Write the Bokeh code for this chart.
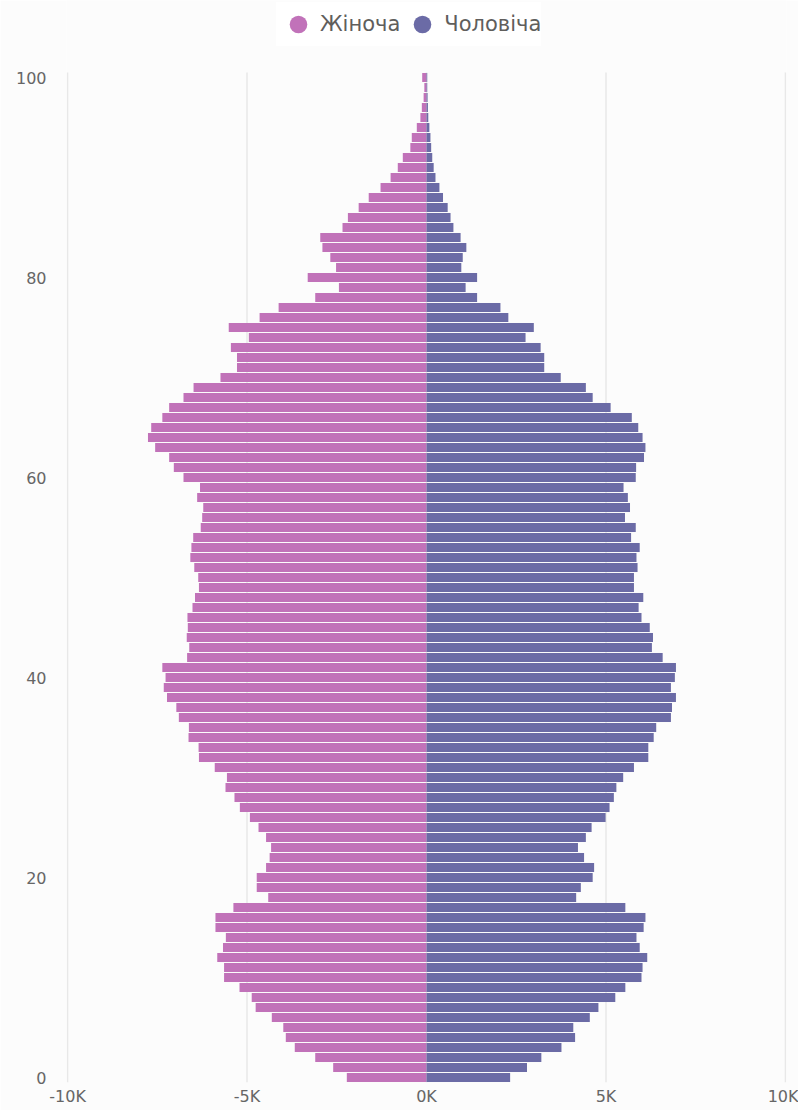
from bokeh.plotting import figure
from bokeh.models import ColumnDataSource, Range1d, FixedTicker, Legend, LegendItem
from bokeh.embed import file_html
from bokeh.resources import INLINE

ages = list(range(0, 101))
female = [2220, 2600, 3100, 3670, 3920, 3990, 4310, 4760, 4870, 5210,
          5640, 5640, 5830, 5670, 5590, 5880, 5880, 5380, 4410, 4730,
          4730, 4470, 4370, 4330, 4470, 4680, 4920, 5200, 5350, 5600,
          5560, 5900, 6340, 6350, 6630, 6620, 6900, 6970, 7230, 7320,
          7270, 7360, 6670, 6610, 6680, 6650, 6660, 6520, 6450, 6340,
          6360, 6470, 6580, 6550, 6500, 6290, 6250, 6220, 6390, 6310,
          6770, 7040, 7170, 7560, 7760, 7670, 7360, 7170, 6770, 6490,
          5740, 5280, 5280, 5450, 4950, 5510, 4650, 4120, 3100, 2440,
          3310, 2520, 2680, 2900, 2960, 2340, 2190, 1890, 1610, 1280,
          1000, 800, 660, 450, 410, 270, 170, 130, 80, 60,
          120]
male = [2330, 2800, 3200, 3760, 4140, 4090, 4550, 4790, 5260, 5540,
        5990, 6020, 6150, 5940, 5850, 6050, 6100, 5540, 4170, 4300,
        4630, 4670, 4390, 4220, 4440, 4600, 4990, 5100, 5220, 5290,
        5480, 5780, 6180, 6180, 6330, 6400, 6810, 6840, 6950, 6810,
        6920, 6950, 6580, 6280, 6310, 6220, 5990, 5910, 6040, 5780,
        5780, 5880, 5850, 5940, 5700, 5830, 5530, 5670, 5610, 5490,
        5830, 5840, 6060, 6100, 6020, 5900, 5720, 5130, 4630, 4440,
        3740, 3280, 3280, 3180, 2760, 2990, 2280, 2060, 1410, 1090,
        1410, 970, 1010, 1110, 950, 750, 670, 590, 460, 360,
        250, 200, 160, 130, 110, 80, 50, 40, 30, 20,
        20]
series_names = ["Жіноча", "Чоловіча"]
x_tick_values = [-10000, -5000, 0, 5000, 10000]
x_tick_labels = ["-10K", "-5K", "0K", "5K", "10K"]
y_tick_values = [0, 20, 40, 60, 80, 100]

FEMALE_COLOR = "#C172B9"
MALE_COLOR = "#6B6BA6"
BG = "#FCFCFC"
FONT = "DejaVu Sans"

src = ColumnDataSource(data=dict(
    age=ages,
    f_left=[-v for v in female],
    zero=[0] * len(ages),
    m_right=male,
))

# frame reaches the top of the canvas so the legend can sit inside it
p = figure(width=798, height=1110, output_backend="svg", toolbar_location=None,
           x_range=Range1d(-10030, 10030), y_range=Range1d(ages[0] - 0.5, ages[-1] + 7.7),
           min_border_left=66, min_border_right=12, min_border_top=0, min_border_bottom=28,
           background_fill_color=BG, border_fill_color=BG)
p.outline_line_color = None

# vertical grid lines limited to the age span
n = len(x_tick_values)
p.segment(x0=x_tick_values, x1=x_tick_values,
          y0=[ages[0] - 0.5] * n, y1=[ages[-1] + 0.5] * n,
          line_color="#E8E8E8", line_width=1.5, level="underlay")

rf = p.hbar(y="age", left="f_left", right="zero", height=0.9, source=src,
            fill_color=FEMALE_COLOR, line_color=None)
rm = p.hbar(y="age", left="zero", right="m_right", height=0.9, source=src,
            fill_color=MALE_COLOR, line_color=None)

# legend proxies (circle markers, zero size on the plot)
lf = p.scatter(x="f_left", y="age", source=src, size=0, marker="circle",
               fill_color=FEMALE_COLOR, line_color=None)
lm = p.scatter(x="m_right", y="age", source=src, size=0, marker="circle",
               fill_color=MALE_COLOR, line_color=None)

legend = Legend(items=[LegendItem(label=series_names[0], renderers=[lf]),
                       LegendItem(label=series_names[1], renderers=[lm])],
                location=(210, 1036), orientation="horizontal",
                glyph_width=44, glyph_height=44, label_standoff=0, spacing=0,
                padding=0, margin=0, label_text_font=FONT,
                label_text_font_size="21px", label_text_color="#605E5C",
                background_fill_color="#FFFFFF", background_fill_alpha=1,
                border_line_alpha=0)
p.add_layout(legend)

p.xaxis.ticker = FixedTicker(ticks=x_tick_values)
p.xaxis.major_label_overrides = {v: l for v, l in zip(x_tick_values, x_tick_labels)}
p.yaxis.ticker = FixedTicker(ticks=y_tick_values)
for ax in (p.xaxis, p.yaxis):
    ax.axis_line_color = None
    ax.major_tick_line_color = None
    ax.minor_tick_line_color = None
    ax.major_tick_out = 0
    ax.major_tick_in = 0
    ax.minor_tick_out = 0
    ax.minor_tick_in = 0
    ax.major_label_text_font = FONT
    ax.major_label_text_font_size = "16px"
    ax.major_label_text_color = "#666666"
p.xaxis.major_label_standoff = 4
p.yaxis.major_label_standoff = 20

p.xgrid.grid_line_color = None
p.ygrid.grid_line_color = None

open("out.html", "w").write(file_html(p, INLINE))
